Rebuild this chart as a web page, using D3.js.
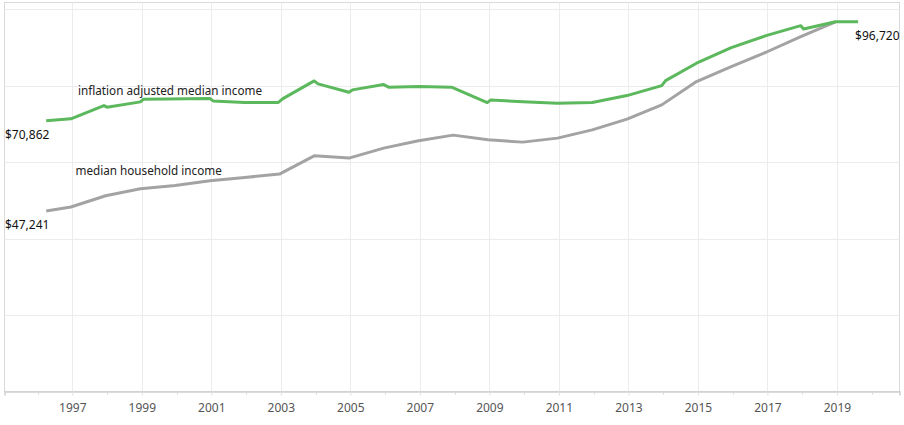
<!DOCTYPE html>
<html>
<head>
<meta charset="utf-8">
<script src="https://cdn.jsdelivr.net/npm/d3@7"></script>
<style>
  html, body { margin: 0; padding: 0; background: #fff; }
  svg { display: block; font-family: "Noto Sans", "Open Sans", sans-serif; }
</style>
</head>
<body>
<svg id="chart" width="904" height="425"></svg>
<script>
// Data (decimal year, value)
const grayYears = [1996.25, 1996.96, 1997.96, 1998.96, 1999.96, 2000.96, 2001.96, 2002.96, 2003.96, 2004.96, 2005.96, 2006.96, 2007.96, 2008.96, 2009.96, 2010.96, 2011.96, 2012.96, 2013.96, 2014.96, 2015.96, 2016.96, 2017.96, 2018.96];
const grayValues = [47241, 48263, 51215, 53044, 53906, 55135, 55997, 56885, 61667, 61066, 63679, 65587, 67076, 65848, 65247, 66292, 68461, 71257, 74994, 81082, 85002, 88764, 92841, 96720];

const greenYears = [1996.25, 1996.96, 1997.91, 1998.0, 1998.96, 1999.05, 2000.96, 2001.05, 2001.96, 2002.92, 2003.06, 2003.96, 2004.07, 2004.96, 2005.06, 2005.96, 2006.1, 2006.98, 2007.91, 2008.94, 2009.04, 2009.96, 2010.96, 2011.96, 2012.96, 2013.96, 2014.07, 2014.96, 2015.96, 2016.96, 2017.96, 2018.04, 2018.96, 2019.61];
const greenValues = [70862, 71335, 74811, 74393, 75777, 76483, 76640, 76039, 75595, 75595, 76640, 81265, 80481, 78312, 78913, 80298, 79619, 79775, 79619, 75595, 76300, 75800, 75438, 75595, 77424, 80037, 81343, 85890, 89966, 93102, 95715, 94853, 96720, 96720];

const tickYears = [1997, 1999, 2001, 2003, 2005, 2007, 2009, 2011, 2013, 2015, 2017, 2019];
const minorYears = [1996, 1998, 2000, 2002, 2004, 2006, 2008, 2010, 2012, 2014, 2016, 2018, 2020];
const yGridValues = [20000, 40000, 60000, 80000, 100000];

const seriesLabels = ["inflation adjusted median income", "median household income"];
const endLabels = ["$70,862", "$47,241", "$96,720"];

const svg = d3.select("#chart");
const pLeft = 4.5, pRight = 899.5, pTop = 2.5, pBottom = 391.5;

const x = d3.scaleLinear().domain([1995.05, 2020.8]).range([pLeft, pRight]);
const y = d3.scaleLinear().domain([0, 100000]).range([pBottom, 9.3]);

// border
svg.append("rect")
  .attr("x", pLeft).attr("y", pTop)
  .attr("width", pRight - pLeft).attr("height", pBottom - pTop)
  .attr("fill", "none").attr("stroke", "#d9d9d9").attr("stroke-width", 1);

// vertical grid
svg.append("g").selectAll("line").data(tickYears).join("line")
  .attr("x1", d => Math.round(x(d)) + 0.5).attr("x2", d => Math.round(x(d)) + 0.5)
  .attr("y1", pTop).attr("y2", pBottom)
  .attr("stroke", "#ececec").attr("stroke-width", 1);

// horizontal grid
svg.append("g").selectAll("line").data(yGridValues).join("line")
  .attr("x1", pLeft).attr("x2", pRight)
  .attr("y1", d => Math.round(y(d)) + 0.5).attr("y2", d => Math.round(y(d)) + 0.5)
  .attr("stroke", "#ececec").attr("stroke-width", 1);

// x axis
const xAxis = d3.axisBottom(x).tickValues(tickYears).tickFormat(d3.format("d")).tickSize(4).tickPadding(8);
const gx = svg.append("g").attr("transform", `translate(0,${pBottom})`).call(xAxis);
gx.select(".domain").attr("stroke", "#d0d0d0").attr("stroke-width", 1.5);
gx.selectAll(".tick line").attr("stroke", "#e0e0e0");
gx.selectAll(".tick text").attr("fill", "#555").style("font-size", "12px").style("font-family", '"Noto Sans", sans-serif');

// minor ticks
svg.append("g").selectAll("line").data(minorYears).join("line")
  .attr("x1", d => Math.round(x(d)) + 0.5).attr("x2", d => Math.round(x(d)) + 0.5)
  .attr("y1", pBottom).attr("y2", pBottom + 3)
  .attr("stroke", "#d8d8d8");

// lines
const line = d3.line().x(d => x(d[0])).y(d => y(d[1]));
const grayData = grayYears.map((d, i) => [d, grayValues[i]]);
const greenData = greenYears.map((d, i) => [d, greenValues[i]]);

svg.append("path").datum(grayData).attr("d", line)
  .attr("fill", "none").attr("stroke", "#a3a3a3").attr("stroke-width", 3).attr("stroke-linejoin", "round");
svg.append("path").datum(greenData).attr("d", line)
  .attr("fill", "none").attr("stroke", "#5cb85c").attr("stroke-width", 3).attr("stroke-linejoin", "round");

// labels
const lab = svg.append("g").style("font-size", "11.7px").attr("fill", "#222");
lab.append("text").attr("x", 78).attr("y", 94.5).text(seriesLabels[0]);
lab.append("text").attr("x", 75.5).attr("y", 175).text(seriesLabels[1]);
lab.append("text").attr("x", 5).attr("y", 138.5).attr("fill", "#111").style("font-size", "12px").text(endLabels[0]);
lab.append("text").attr("x", 5).attr("y", 228.5).attr("fill", "#111").style("font-size", "12px").text(endLabels[1]);
lab.append("text").attr("x", 899.5).attr("y", 40).attr("text-anchor", "end").attr("fill", "#111").style("font-size", "12px").text(endLabels[2]);
</script>
</body>
</html>
